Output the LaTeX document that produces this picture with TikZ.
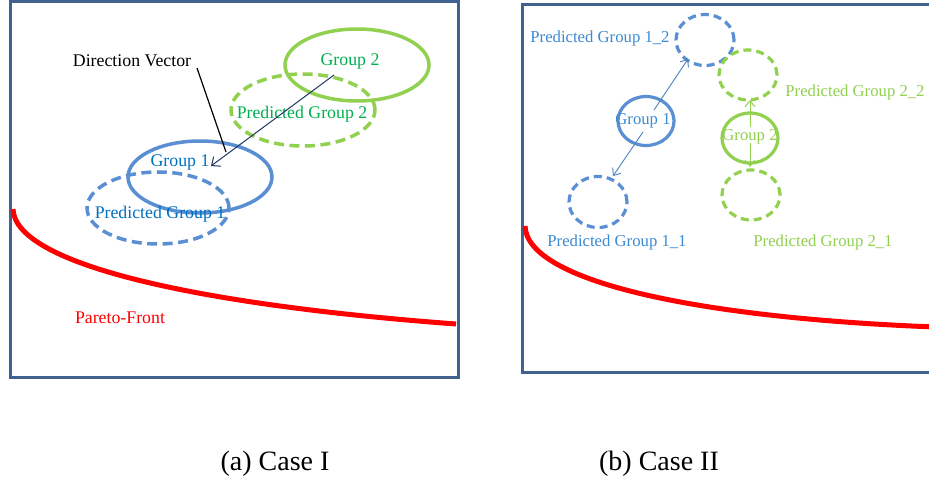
\documentclass[tikz,border=0pt]{standalone}
\usepackage{fontspec}
\setmainfont{Liberation Serif}
\usetikzlibrary{shapes.geometric,arrows.meta}
\definecolor{framec}{HTML}{41618F}
\definecolor{blueE}{HTML}{5B8FD4}
\definecolor{blueT}{HTML}{0070C0}
\definecolor{blueT2}{HTML}{3C8AD2}
\definecolor{greenE}{HTML}{92D050}
\definecolor{greenT}{HTML}{00B050}
\definecolor{navy}{HTML}{1F3864}
\definecolor{arrowb}{HTML}{4F81BD}
\definecolor{paretor}{HTML}{FF0000}
\tikzset{
  frame/.style={draw=framec, line width=3pt},
  grp/.style={ellipse, draw, line width=3.5pt, inner sep=0pt},
  pred/.style={ellipse, draw, line width=3.5pt, inner sep=0pt, dash pattern=on 10pt off 5.5pt},
  predsmall/.style={ellipse, draw, line width=3.2pt, inner sep=0pt, dash pattern=on 8pt off 5pt},
  lbl/.style={inner sep=0pt, font=\fontsize{17.8}{20}\selectfont},
  lbls/.style={inner sep=0pt, font=\fontsize{16.7}{19}\selectfont},
  captext/.style={inner sep=0pt, font=\fontsize{28}{31}\selectfont},
  pareto/.style={draw=paretor, line width=5pt},
}
\begin{document}
\begin{tikzpicture}[x=1pt,y=-1pt]
\useasboundingbox (0,0) rectangle (929,484);
\clip (0,0) rectangle (929,484);
\fill[white] (0,0) rectangle (929,484);
% ---------- (a) ----------
\draw[frame] (10,2) rectangle (458,377);
\draw[pareto] (13,209) .. controls (15,265) and (200,305) .. (456,324);
\node[pred, draw=blueE, minimum width=142pt, minimum height=72pt] (pg1) at (158,208) {};
\node[grp, draw=blueE, minimum width=144pt, minimum height=72pt] (g1) at (200,177) {};
\node[pred, draw=greenE, minimum width=144pt, minimum height=72pt] (pg2) at (303,110) {};
\node[grp, draw=greenE, minimum width=144pt, minimum height=72pt] (g2) at (357,65) {};
\node[lbl, text=greenT] (tg2) at (350,62) {Group 2};
\node[lbl, text=greenT] (tpg2) at (302,114) {Predicted Group 2};
\node[lbl, text=blueT] (tg1) at (180,163) {Group 1};
\node[lbl, text=blueT] (tpg1) at (160,214) {Predicted Group 1};
\node[lbl, text=black] (dv) at (132,61) {Direction Vector};
\node[lbl, text=paretor] (pf) at (120,318) {Pareto-Front};
\coordinate (va) at (334,75);
\coordinate (vb) at (211,166);
\draw[navy, line width=1pt, -{Straight Barb[length=7pt,width=12pt]}] (va) -- (vb);
\coordinate (da) at (197,68);
\coordinate (db) at (226,152);
\draw[black, line width=1.2pt] (da) -- (db);
% ---------- (b) ----------
\draw[frame] (522,5) rectangle (945,372);
\draw[pareto] (525,226) .. controls (527,282) and (700,318) .. (935,327);
\node[predsmall, draw=blueE, minimum width=58pt, minimum height=51pt] (p12) at (705,40) {};
\node[predsmall, draw=greenE, minimum width=58pt, minimum height=50pt] (p22) at (748,75) {};
\node[grp, draw=blueE, line width=3.2pt, minimum width=56pt, minimum height=49pt] (h1) at (646,121) {};
\node[grp, draw=greenE, line width=3.2pt, minimum width=56pt, minimum height=50pt] (h2) at (750,138) {};
\node[predsmall, draw=blueE, minimum width=58pt, minimum height=51pt] (p11) at (598,202) {};
\node[predsmall, draw=greenE, minimum width=58pt, minimum height=50pt] (p21) at (751,195) {};
\node[lbls, text=blueT2] (t12) at (600,38) {Predicted Group 1\_2};
\node[lbls, text=greenE] (t22) at (855,92) {Predicted Group 2\_2};
\node[lbls, text=blueT2] (th1) at (643,121) {Group 1};
\node[lbls, text=greenE] (th2) at (750,137) {Group 2};
\node[lbls, text=blueT2] (t11) at (617,242) {Predicted Group 1\_1};
\node[lbls, text=greenE] (t21) at (823,242) {Predicted Group 2\_1};
\coordinate (b1s) at (654,110);
\coordinate (b1e) at (688,59);
\coordinate (b2s) at (643,132);
\coordinate (b2e) at (613,176);
\coordinate (c1s) at (750,127);
\coordinate (c1e) at (750,100);
\coordinate (c2s) at (750,143);
\coordinate (c2e) at (750,167);
\draw[arrowb, line width=0.9pt, -{Straight Barb[length=6pt,width=10pt]}] (b1s) -- (b1e);
\draw[arrowb, line width=0.9pt, -{Straight Barb[length=6pt,width=10pt]}] (b2s) -- (b2e);
\draw[greenE, line width=1pt, -{Straight Barb[length=6pt,width=10pt]}] (c1s) -- (c1e);
\draw[greenE, line width=1pt, -{Straight Barb[length=6pt,width=10pt]}] (c2s) -- (c2e);
% captions
\node[captext] (ca) at (275,464) {(a) Case I};
\node[captext] (cb) at (659,464) {(b) Case II};
\end{tikzpicture}
\end{document}
